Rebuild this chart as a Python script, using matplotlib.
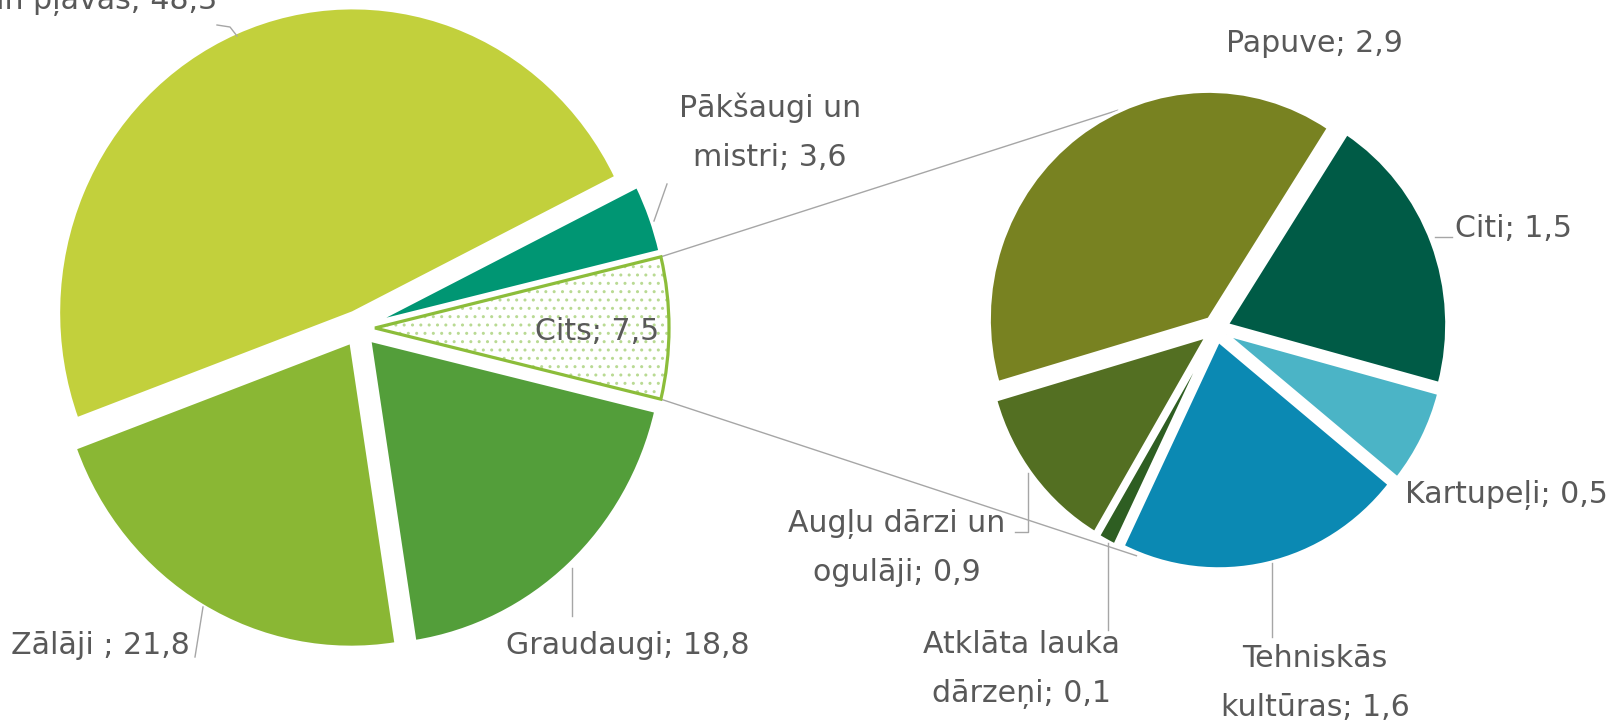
import numpy as np
import matplotlib
matplotlib.use("Agg")
import matplotlib.pyplot as plt
from matplotlib.patches import Wedge

# ---------------- data ----------------
main_names = ["Ganības un pļavas", "Pākšaugi un\nmistri", "Cits", "Graudaugi", "Zālāji "]
main_values = [48.3, 3.6, 7.5, 18.8, 21.8]
main_colors = ["#c2d03c", "#009673", "#ffffff", "#539e3a", "#8ab734"]
OTHER = 2  # index of the "Cits" slice that is split into the second pie

sec_names = ["Papuve", "Citi", "Kartupeļi", "Tehniskās\nkultūras",
             "Atklāta lauka\ndārzeņi", "Augļu dārzi un\nogulāji"]
sec_values = [2.9, 1.5, 0.5, 1.6, 0.1, 0.9]
sec_colors = ["#788221", "#005b46", "#4bb4c6", "#0b89b3", "#2e5e22", "#536f22"]

# ---------------- layout ----------------
W, H = 1617, 721
SY = 1.037                      # vertical stretch of the reference
MAIN_C = (359.0, (H - 328) / SY)
MAIN_R = 294.0
MAIN_EX = 16.0
SEC_C = (1216.0, (H - 329) / SY)
SEC_R = 219.5
SEC_EX = 12.0
SEC_START = 57.0                # angle where "Papuve" meets "Citi"
TEXT_COLOR = "#595959"
LINE_COLOR = "#a6a6a6"
FS = 21.6
LSTEP = 49

fig = plt.figure(figsize=(W / 100, H / 100), dpi=100)
ax = fig.add_axes([0, 0, 1, 1])

# main pie: clockwise, "Cits" centred on 0 degrees
mtot = sum(main_values)
m_start = main_values[OTHER] / mtot * 180 + sum(main_values[:OTHER]) / mtot * 360
wm, _ = ax.pie(main_values, colors=main_colors, startangle=m_start, counterclock=False,
               radius=MAIN_R, center=MAIN_C, explode=[MAIN_EX] * len(main_values),
               wedgeprops=dict(edgecolor="white", linewidth=2.2), frame=True)
cw = wm[OTHER]
cw.set_facecolor("white")
cw.set_edgecolor("#b9da93")
cw.set_hatch("..")
cw.set_linewidth(0)
outline = Wedge(cw.center, cw.r, cw.theta1, cw.theta2, facecolor="none",
                edgecolor="#8cbd3a", linewidth=2.3, zorder=3)
ax.add_patch(outline)

# secondary pie
stot = sum(sec_values)
s_start = SEC_START + sec_values[0] / stot * 360
ws, _ = ax.pie(sec_values, colors=sec_colors, startangle=s_start, counterclock=False,
               radius=SEC_R, center=SEC_C, explode=[SEC_EX] * len(sec_values),
               wedgeprops=dict(edgecolor="white", linewidth=2.2), frame=True)

# connector lines from the "Cits" slice to the secondary pie
cx0, cy0 = cw.center
for a_main, a_sec in ((cw.theta2, 115.0), (cw.theta1, 250.0)):
    p0 = (cx0 + cw.r * np.cos(np.radians(a_main)), cy0 + cw.r * np.sin(np.radians(a_main)))
    rr = SEC_R * 1.06
    p1 = (SEC_C[0] + rr * np.cos(np.radians(a_sec)), SEC_C[1] + rr * np.sin(np.radians(a_sec)))
    ax.plot([p0[0], p1[0]], [p0[1], p1[1]], color=LINE_COLOR, lw=1.0, zorder=0.5)

ax.set_aspect("auto")
ax.set_xlim(0, W)
ax.set_ylim(0, H / SY)
ax.axis("off")

# ---------------- labels (overlay in image pixel coordinates) ----------------
ov = fig.add_axes([0, 0, 1, 1])
ov.set_xlim(0, W)
ov.set_ylim(H, 0)
ov.axis("off")
ov.patch.set_alpha(0)


def fmt(v):
    return f"{v:.1f}".replace(".", ",")


main_label_pos = [(217, 9, "right"), (770, 117, "center"), (597, 340, "center"),
                  (506, 654, "left"), (190, 654, "right")]
sec_label_pos = [(1314, 52, "center"), (1455, 237, "left"), (1405, 503, "left"),
                 (1315, 667, "center"), (1021, 653, "center"), (897, 532, "center")]

for names, vals, poss in ((main_names, main_values, main_label_pos),
                          (sec_names, sec_values, sec_label_pos)):
    for name, v, (x, y, ha) in zip(names, vals, poss):
        lines = f"{name}; {fmt(v)}".split("\n")
        for i, ln in enumerate(lines):
            ov.text(x, y + i * LSTEP, ln, ha=ha, va="baseline", fontsize=FS,
                    color=TEXT_COLOR)

leaders = [
    [(217, 25), (230, 27), (237, 36)],
    [(667, 184), (654, 221)],
    [(203, 607), (195, 657)],
    [(572, 568), (572, 616)],
    [(1435, 237), (1452, 237)],
    [(1272, 563), (1272, 637)],
    [(1108, 543), (1108, 630)],
    [(1028, 473), (1028, 532), (1015, 532)],
]
for pts in leaders:
    xs, ys = zip(*pts)
    ov.plot(xs, ys, color=LINE_COLOR, lw=1.0)

fig.savefig("out.png", dpi=100)
